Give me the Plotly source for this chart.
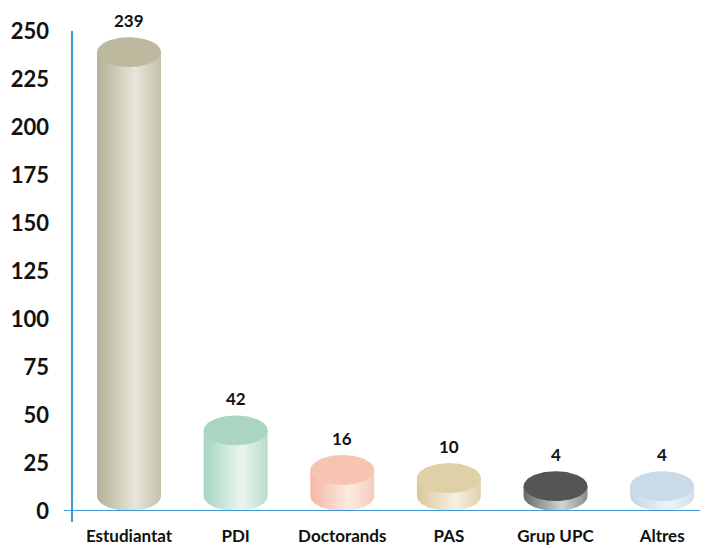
import numpy as np
import plotly.graph_objects as go

categories = ["Estudiantat", "PDI", "Doctorands", "PAS", "Grup UPC", "Altres"]
values = [239, 42, 16, 10, 4, 4]
y_ticks = [0, 25, 50, 75, 100, 125, 150, 175, 200, 225, 250]

# colours: (top, body-left, body-highlight, body-right)
palette = [
    ("#bcb99e", "#b3b098", "#e8e6da", "#c4c1ab"),
    ("#aad6c1", "#a6d4be", "#e9f6ef", "#b8decb"),
    ("#f6c4b1", "#f3b8a3", "#fdeae2", "#f6cbbb"),
    ("#e0d0a8", "#d9c79e", "#f6efe2", "#e1d2ae"),
    ("#555557", "#6a6a6a", "#d4d4d4", "#8c8c8c"),
    ("#c9dae8", "#c3d6e5", "#edf3f8", "#d2e0ec"),
]

FONT = "Lato"
W = 0.30   # half-width of cylinder, x units
H = 7.8    # half-height of ellipse, y units

fig = go.Figure()
t_half = np.linspace(0, np.pi, 60)
t_full = np.linspace(0, 2 * np.pi, 120)

for i, (cat, v) in enumerate(zip(categories, values)):
    top_c, c1, c2, c3 = palette[i]
    bot = H
    top = max(v, 1.3 * H + 0.7 * v)
    # body: rectangle + lower half ellipse
    bx = [i - W, i + W, i + W] + list(i + W * np.cos(t_half)) + [i - W]
    by = [top, top, bot] + list(bot - H * np.sin(t_half)) + [top]
    fig.add_trace(go.Scatter(
        x=bx, y=by, mode="lines", fill="toself", line=dict(width=0),
        fillcolor=c2,
        fillgradient=dict(type="horizontal", start=i - W, stop=i + W,
                          colorscale=[[0, c1], [0.6, c2], [1, c3]]),
        hoverinfo="skip", showlegend=False))
    # top ellipse
    fig.add_trace(go.Scatter(
        x=list(i + W * np.cos(t_full)), y=list(top + H * np.sin(t_full)),
        mode="lines", fill="toself", line=dict(width=0), fillcolor=top_c,
        hoverinfo="skip", showlegend=False))
    fig.add_annotation(x=i, y=top + H, text=f"<b>{v}</b>", showarrow=False,
                       yanchor="bottom", yshift=4,
                       font=dict(family=FONT, size=17, color="#111111"))

axis_blue = "#3d9ad6"
fig.add_shape(type="line", xref="paper", yref="paper", x0=0, x1=0, y0=1.0, y1=-0.023,
              line=dict(color=axis_blue, width=2))
fig.add_shape(type="line", xref="paper", yref="y", x0=-0.0126, x1=1, y0=0, y1=0,
              line=dict(color=axis_blue, width=2))

# page has an 8px body margin, so the figure is offset by 8px
fig.update_layout(
    width=700, height=540,
    margin=dict(l=64, r=0, t=23, b=37),
    paper_bgcolor="white", plot_bgcolor="white",
    xaxis=dict(range=[-0.535, 5.43], tickvals=list(range(len(categories))),
               ticktext=[f"<b>{c}</b>" for c in categories],
               showgrid=False, zeroline=False, showline=False, ticks="",
               ticklabelstandoff=13,
               tickfont=dict(family=FONT, size=17, color="#111111")),
    yaxis=dict(range=[0, 250], tickvals=y_ticks,
               ticktext=[f"<b>{t}</b>" for t in y_ticks],
               showgrid=False, zeroline=False, showline=False, ticks="",
               ticklabelstandoff=22,
               tickfont=dict(family=FONT, size=22, color="#111111")),
)

fig.write_html("out.html")
